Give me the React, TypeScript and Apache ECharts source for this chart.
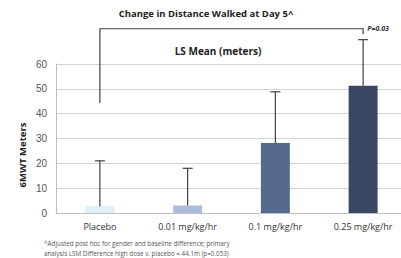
import React, { useEffect, useRef } from "react";
import * as echarts from "echarts";

const categories = ["Placebo", "0.01 mg/kg/hr", "0.1 mg/kg/hr", "0.25 mg/kg/hr"];
const meanValues = [2.7, 3, 28.2, 51.2];
const upperValues = [21, 18, 48.8, 69.8];
const barColors = ["#e1f0f4", "#adbad9", "#56698f", "#3a4762"];
const yTicks = { min: 0, max: 60, interval: 10 };
// bracket: [fromCategory, toCategory, leftBottom, top, rightBottom]
const bracket = [[0, 3, 44.3, 74.2, 72]];
const pLabel = "P=0.03";

export default function App() {
  const ref = useRef<HTMLDivElement>(null);
  useEffect(() => {
    if (!ref.current) return;
    const chart = echarts.init(ref.current, null, { renderer: "svg" });
    const font = "'Open Sans', 'Liberation Sans', sans-serif";
    chart.setOption({
      animation: false,
      grid: { left: 56, right: 0, top: 64, bottom: 45, containLabel: false },
      title: [
        {
          text: "Change in Distance Walked at Day 5^",
          left: 201,
          top: 3,
          textAlign: "center",
          textStyle: { fontSize: 9.5, fontWeight: "bold", color: "#222", fontFamily: font },
        },
        {
          text: "LS Mean (meters)",
          left: 213,
          top: 41,
          textAlign: "center",
          textStyle: { fontSize: 10, fontWeight: "bold", color: "#222", fontFamily: font },
        },
      ],
      xAxis: {
        type: "category",
        data: categories,
        axisLine: { lineStyle: { color: "#bfbfbf" } },
        axisTick: { show: false },
        axisLabel: { fontSize: 9, color: "#333", margin: 9, fontFamily: font },
      },
      yAxis: {
        type: "value",
        min: yTicks.min,
        max: yTicks.max,
        interval: yTicks.interval,
        axisLine: { show: true, lineStyle: { color: "#bfbfbf" } },
        axisTick: { show: false },
        splitLine: { lineStyle: { color: "#d4d4d4" } },
        axisLabel: { fontSize: 10, color: "#555", margin: 9, fontFamily: "'Liberation Sans', Arial, sans-serif" },
      },
      graphic: [
        {
          type: "text",
          x: 22,
          y: 155,
          rotation: Math.PI / 2,
          style: {
            text: "6MWT Meters",
            fontSize: 9.5,
            fontWeight: "bold",
            fill: "#222",
            align: "center",
            verticalAlign: "middle",
            fontFamily: font,
          },
        },
        {
          type: "text",
          x: 44,
          y: 239,
          style: {
            text:
              "^Adjusted post hoc for gender and baseline difference; primary\nanalysis LSM Difference high dose v. placebo = 44.1m (p=0.053)",
            fontSize: 6.3,
            lineHeight: 9.5,
            fill: "#555",
            fontFamily: font,
          },
        },
      ],
      series: [
        {
          type: "bar",
          barWidth: "33%",
          data: meanValues.map((v, i) => ({
            value: v,
            itemStyle: { color: barColors[i], borderColor: i === 0 ? "#d0e4ea" : undefined, borderWidth: i === 0 ? 0.5 : 0 },
          })),
        },
        {
          type: "custom",
          clip: false,
          data: meanValues.map((v, i) => [i, v, upperValues[i]]),
          renderItem: (params: any, api: any) => {
            const x = api.value(0);
            const lo = api.coord([x, api.value(1)]);
            const hi = api.coord([x, api.value(2)]);
            const cap = 5;
            return {
              type: "group",
              children: [
                { type: "line", shape: { x1: lo[0], y1: lo[1], x2: hi[0], y2: hi[1] }, style: { stroke: "#404040", lineWidth: 1.2 } },
                { type: "line", shape: { x1: hi[0] - cap, y1: hi[1], x2: hi[0] + cap, y2: hi[1] }, style: { stroke: "#404040", lineWidth: 1.2 } },
              ],
            };
          },
          z: 5,
        },
        {
          type: "custom",
          clip: false,
          data: bracket,
          renderItem: (params: any, api: any) => {
            const a = api.coord([api.value(0), api.value(2)]);
            const t1 = api.coord([api.value(0), api.value(3)]);
            const t2 = api.coord([api.value(1), api.value(3)]);
            const b = api.coord([api.value(1), api.value(4)]);
            return {
              type: "group",
              children: [
                {
                  type: "polyline",
                  shape: { points: [a, t1, t2, b] },
                  style: { stroke: "#404040", lineWidth: 1.2, fill: "none" },
                },
                {
                  type: "text",
                  x: t2[0] + 4,
                  y: t2[1],
                  style: {
                    text: pLabel,
                    fontSize: 7,
                    fontStyle: "italic",
                    fontWeight: "bold",
                    fill: "#333",
                    verticalAlign: "middle",
                    fontFamily: font,
                  },
                },
              ],
            };
          },
          z: 5,
        },
      ],
    });
    return () => chart.dispose();
  }, []);
  return (
    <div style={{ width: 401, height: 258, position: "absolute", left: 0, top: 0, overflow: "hidden", background: "#fff" }}>
      <div ref={ref} style={{ width: 407, height: 258 }} />
    </div>
  );
}
